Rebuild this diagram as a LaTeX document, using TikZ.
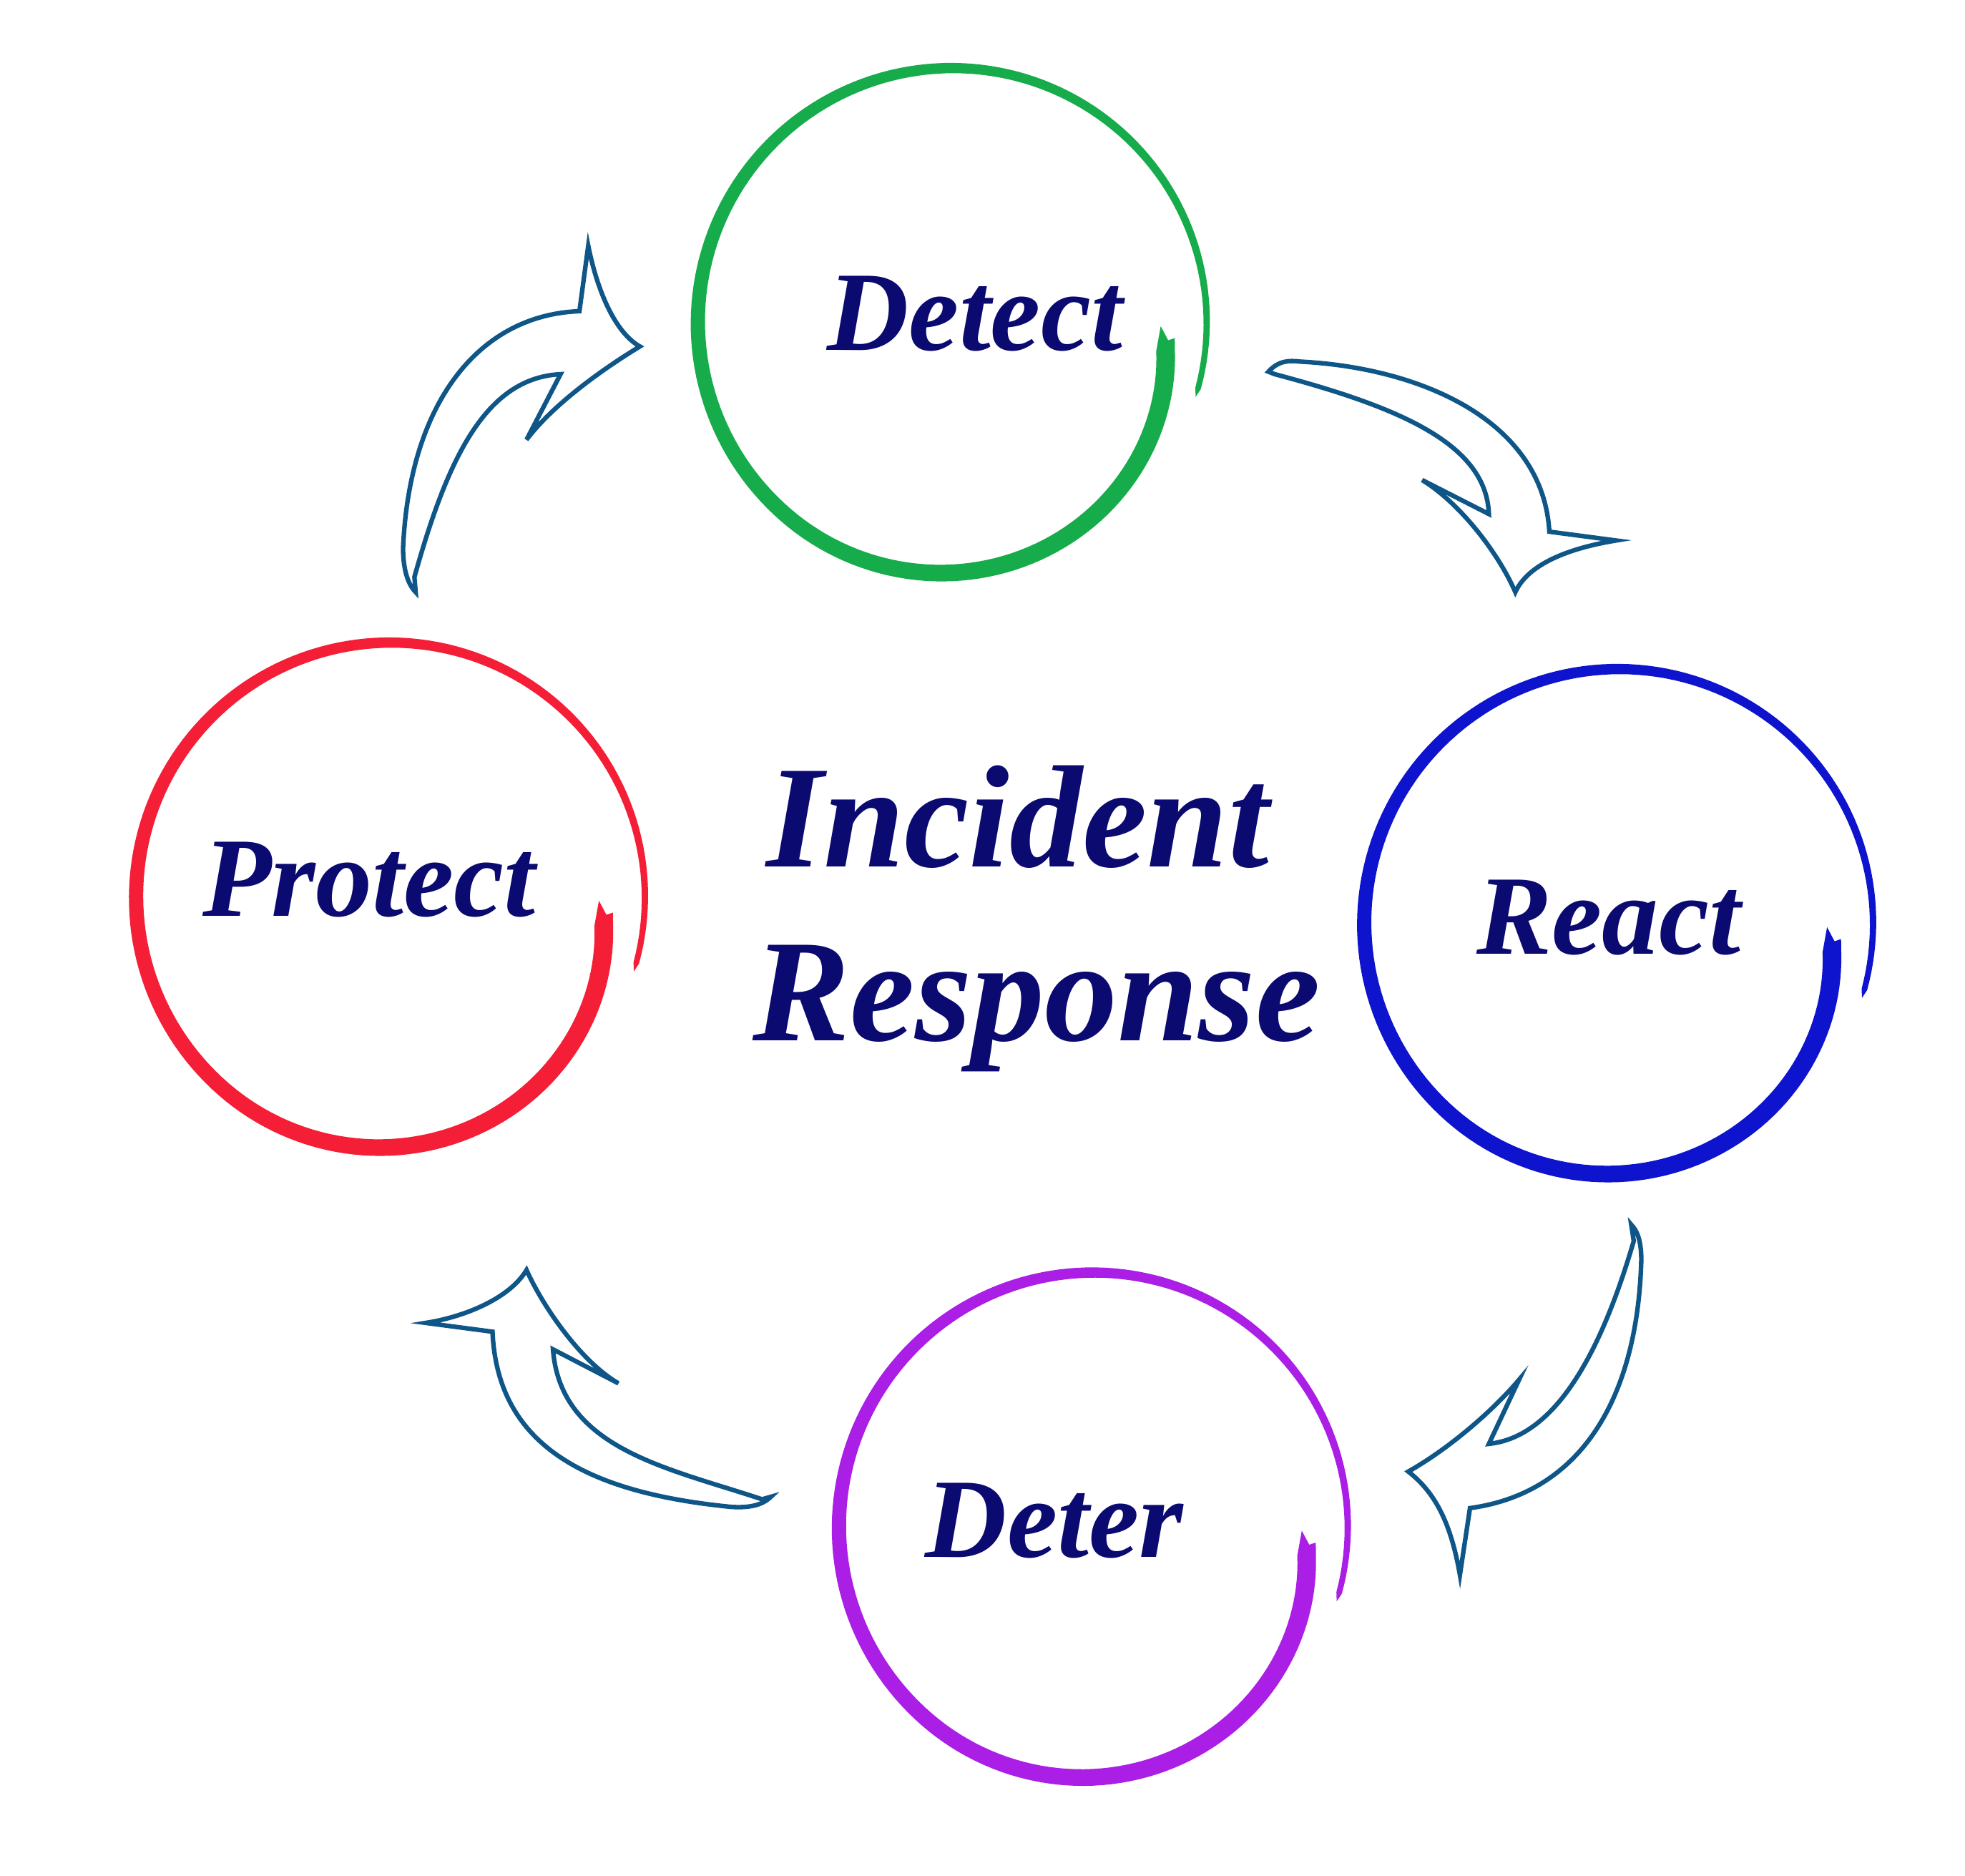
\documentclass[tikz,border=0pt]{standalone}
\usepackage{fontspec}
\setmainfont{Liberation Serif}

\definecolor{ringgreen}{RGB}{23,172,75}
\definecolor{ringblue}{RGB}{14,20,205}
\definecolor{ringred}{RGB}{245,30,55}
\definecolor{ringpurple}{RGB}{170,30,230}
\definecolor{arrowblue}{RGB}{14,86,136}
\definecolor{textnavy}{RGB}{10,10,112}

\tikzset{>=latex}

% brush ring round a centre: #1 centre, #2 colour
\newcommand{\brushring}[2]{%
	\fill[#2, shift={(#1)}, yscale=-1]
		(-17:202)
		-- plot[domain=-15:352, samples=180] (\x:{ringr(\x)+ringw(\x)})
		-- (356:177) -- (355.3:172) -- (359:165.5)
		-- plot[domain=352:-15, samples=180] (\x:{ringr(\x)-ringw(\x)})
		-- cycle;
}

\begin{document}
\begin{tikzpicture}[x=0.01761cm, y=-0.01761cm,
	declare function={ringr(\v)=202-31*(\v>230)*((\v-230)/122)^2;
		ringw(\v)=0.5*(4.5+7*min(1,(\v+15)/200)+3.5*max(0,(\v-185)/167));}]
	\tikzstyle{stage} = [text=textnavy, anchor=base, inner sep=0pt, font=\fontsize{45}{54}\selectfont\bfseries\itshape]
	\tikzstyle{title} = [text=textnavy, anchor=base, inner sep=0pt, font=\fontsize{58}{70}\selectfont\bfseries\itshape]
	\tikzstyle{arrowline} = [draw=arrowblue, line width=1.8pt, line join=miter]

	\useasboundingbox (0,0) rectangle (1560,1489);

%----------rings and stages------------------------------
	\coordinate (cdetect) at (756,256);
	\coordinate (creact) at (1285,733);
	\coordinate (cdeter) at (868,1212);
	\coordinate (cprotect) at (310,712);

	\brushring{cdetect}{ringgreen}
	\brushring{creact}{ringblue}
	\brushring{cdeter}{ringpurple}
	\brushring{cprotect}{ringred}

	\node[stage] (detect) at (774,278) {Detect};
	\node[stage] (react) at (1277,757) {React};
	\node[stage] (deter) at (837,1236) {Deter};
	\node[stage] (protect) at (293,727) {Protect};

%----------title------------------------------------------
	\node[title] (incident) at (808,688) {Incident};
	\node[title] (response) at (823,826) {Response};

%----------Detect -> React-------------------------------
	\draw[arrowline] (1007,295) .. controls (1015,286) and (1024,286) .. (1032,287)
		.. controls (1130,292) and (1225,335) .. (1230,422)
		-- (1283,429)
		.. controls (1240,436) and (1212,450) .. (1203,470)
		.. controls (1190,440) and (1160,400) .. (1129,381)
		-- (1182,408)
		.. controls (1180,352) and (1110,323) .. (1012,297)
		-- cycle;

%----------React -> Deter--------------------------------
	\draw[arrowline] (1295,972) .. controls (1301,978) and (1303,988) .. (1303,1000)
		.. controls (1300,1110) and (1255,1185) .. (1167,1197)
		-- (1159,1250)
		.. controls (1152,1210) and (1140,1185) .. (1118,1168)
		.. controls (1150,1150) and (1185,1120) .. (1206,1095)
		-- (1182,1146)
		.. controls (1240,1140) and (1275,1060) .. (1297,985)
		-- cycle;

%----------Deter -> Protect------------------------------
	\draw[arrowline] (612,1188) .. controls (605,1195) and (594,1197) .. (580,1196)
		.. controls (470,1185) and (395,1150) .. (391,1057)
		-- (338,1050)
		.. controls (370,1045) and (405,1030) .. (418,1008)
		.. controls (430,1035) and (460,1080) .. (491,1098)
		-- (439,1071)
		.. controls (445,1150) and (530,1165) .. (605,1190)
		-- cycle;

%----------Protect -> Detect-----------------------------
	\draw[arrowline] (330,470) .. controls (323,463) and (320,450) .. (320,435)
		.. controls (325,320) and (380,250) .. (460,247)
		-- (467,195)
		.. controls (475,235) and (490,265) .. (508,275)
		.. controls (480,292) and (440,320) .. (418,349)
		-- (445,297)
		.. controls (385,300) and (355,365) .. (329,458)
		-- cycle;

\end{tikzpicture}
\end{document}
